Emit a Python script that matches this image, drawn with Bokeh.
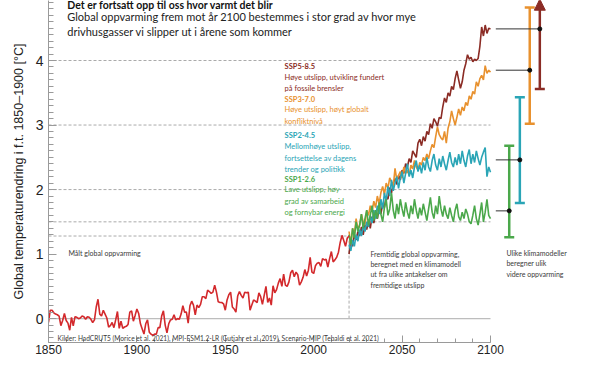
from bokeh.plotting import figure
from bokeh.models import Range1d, FixedTicker, Label, Whisker, TeeHead, NormalHead, ColumnDataSource
from bokeh.embed import file_html
from bokeh.resources import INLINE

# ---------------- data ----------------
obs_years = list(range(1850, 2021))
obs_vals = [
    -0.06, 0.13, 0.13, 0.09, 0.07, 0.06, 0.04, -0.11, -0.03, 0.08,   # 1850s
    -0.03, -0.07, -0.18, 0.02, -0.11, 0.03, 0.02, 0.00, 0.01, 0.04,  # 1860s
    0.03, -0.01, 0.03, 0.02, -0.01, -0.06, -0.02, 0.18, 0.30, 0.07,  # 1870s
    0.04, 0.13, 0.07, 0.01, -0.13, -0.11, -0.06, -0.14, -0.02, 0.11, # 1880s
    -0.15, -0.04, -0.15, -0.13, -0.12, -0.09, 0.10, 0.12, -0.04, 0.05, # 1890s
    0.15, 0.08, -0.08, -0.16, -0.24, -0.08, -0.02, -0.21, -0.24, -0.26, # 1900s
    -0.24, -0.24, -0.14, -0.14, 0.04, 0.12, -0.10, -0.22, -0.08, -0.02, # 1910s
    -0.01, 0.06, -0.02, 0.00, -0.01, 0.07, 0.20, 0.10, 0.10, -0.07,  # 1920s
    0.20, 0.27, 0.21, 0.06, 0.21, 0.17, 0.22, 0.34, 0.34, 0.31,      # 1930s
    0.44, 0.42, 0.39, 0.41, 0.52, 0.41, 0.26, 0.25, 0.25, 0.23,      # 1940s
    0.13, 0.29, 0.37, 0.41, 0.18, 0.15, 0.10, 0.35, 0.42, 0.36,      # 1950s
    0.32, 0.41, 0.40, 0.41, 0.13, 0.21, 0.29, 0.27, 0.25, 0.40,      # 1960s
    0.34, 0.22, 0.36, 0.50, 0.25, 0.32, 0.21, 0.51, 0.40, 0.45,      # 1970s
    0.55, 0.62, 0.50, 0.69, 0.52, 0.50, 0.57, 0.71, 0.75, 0.65,      # 1980s
    0.72, 0.68, 0.52, 0.57, 0.64, 0.76, 0.66, 0.75, 0.95, 0.72,      # 1990s
    0.70, 0.82, 0.86, 0.87, 0.81, 0.93, 0.91, 0.92, 0.80, 0.93,      # 2000s
    1.04, 0.88, 0.91, 0.95, 1.03, 1.18, 1.29, 1.21, 1.12, 1.25,      # 2010s
    1.28,                                                            # 2020
]

ssp_years = list(range(2020, 2101))
ssp585 = [
    1.00, 1.25, 1.12, 1.30, 1.22, 1.35, 1.28, 1.42, 1.30, 1.45,
    1.38, 1.52, 1.40, 1.58, 1.48, 1.62, 1.55, 1.70, 1.62, 1.78,
    1.72, 1.90, 1.85, 2.03, 1.95, 2.10, 2.17, 2.08, 2.22, 2.15,
    2.30, 2.25, 2.40, 2.35, 2.48, 2.42, 2.60, 2.55, 2.50, 2.72,
    2.78, 2.68, 2.82, 2.75, 2.90, 2.85, 3.02, 2.95, 3.10, 3.05,
    2.98, 3.12, 3.10, 3.28, 3.42, 3.35, 3.50, 3.45, 3.60, 3.55,
    3.72, 3.84, 3.70, 3.57, 3.67, 3.85, 3.95, 4.09, 4.02, 4.05,
    3.98, 4.02, 4.00, 4.03, 4.22, 4.52, 4.38, 4.55, 4.42, 4.50,
    4.49,
]
ssp370 = [
    1.35, 1.15, 1.40, 1.30, 1.55, 1.38, 1.45, 1.62, 1.50, 1.45,
    1.68, 1.60, 1.75, 1.65, 1.82, 1.72, 1.90, 1.78, 1.95, 2.05,
    1.92, 2.10, 2.02, 2.18, 2.12, 2.05, 2.33, 2.15, 2.22, 2.28,
    2.18, 2.35, 2.25, 2.30, 2.22, 2.38, 2.32, 2.45, 2.35, 2.30,
    2.42, 2.38, 2.50, 2.45, 2.55, 2.48, 2.60, 2.70, 2.65, 2.82,
    2.97, 2.85, 2.80, 2.77, 2.90, 2.72, 2.95, 3.05, 3.22, 3.10,
    3.00, 3.12, 3.25, 3.15, 3.28, 3.22, 3.35, 3.30, 3.45, 3.40,
    3.52, 3.48, 3.67, 3.60, 3.72, 3.77, 3.70, 3.92, 3.80, 3.85,
    3.82,
]
ssp245 = [
    1.15, 1.05, 1.22, 1.12, 1.30, 1.20, 1.38, 1.28, 1.45, 1.35,
    1.50, 1.42, 1.60, 1.48, 1.68, 1.55, 1.75, 1.62, 1.85, 1.70,
    1.95, 1.82, 2.05, 1.90, 2.15, 1.98, 2.10, 2.20, 2.02, 2.18,
    2.28, 2.10, 2.25, 2.40, 2.20, 2.30, 2.18, 2.35, 2.45, 2.28,
    2.38, 2.25, 2.42, 2.30, 2.50, 2.35, 2.28, 2.45, 2.55, 2.38,
    2.30, 2.48, 2.35, 2.52, 2.40, 2.30, 2.45, 2.58, 2.42, 2.35,
    2.50, 2.38, 2.55, 2.40, 2.60, 2.45, 2.35, 2.52, 2.62, 2.40,
    2.55, 2.42, 2.60, 2.48, 2.38, 2.50, 2.58, 2.65, 2.20, 2.35,
    2.27,
]
ssp126 = [
    1.30, 1.15, 1.40, 1.25, 1.50, 1.35, 1.45, 1.62, 1.40, 1.55,
    1.68, 1.45, 1.60, 1.75, 1.52, 1.68, 1.55, 1.80, 1.62, 1.50,
    1.72, 1.85, 1.60, 1.70, 1.95, 1.68, 1.55, 1.78, 1.62, 1.85,
    1.70, 1.58, 1.80, 1.65, 1.55, 1.75, 1.62, 1.85, 1.68, 1.55,
    1.72, 1.60, 1.78, 1.65, 1.52, 1.70, 1.88, 1.65, 1.55, 1.75,
    1.62, 1.90, 1.70, 1.58, 1.75, 1.62, 1.55, 1.72, 1.60, 1.50,
    1.68, 1.78, 1.58, 1.52, 1.65, 1.55, 1.70, 1.62, 1.50, 1.47,
    1.60, 1.75, 1.55, 1.45, 1.62, 1.80, 1.50, 1.65, 1.85, 1.60,
    1.55,
]

# model spread in 2100 (low, central, high) per scenario
scen_names = ["SSP1-2.6", "SSP2-4.5", "SSP3-7.0", "SSP5-8.5"]
range_low = [1.26, 1.79, 3.02, 3.56]
range_mid = [1.67, 2.46, 3.85, 4.49]
range_high = [2.68, 3.43, 4.82, 4.95]

ref_levels = [4.0, 3.0, 2.0, 1.5]
obs_level = 1.28
obs_end_year = 2020

x_ticks = [1850, 1900, 1950, 2000, 2050, 2100]
y_ticks = [0, 1, 2, 3, 4, 5]

# ---------------- styles / positions ----------------
C_OBS = "#d3292c"
C585 = "#8b2c25"
C370 = "#e8912e"
C245 = "#2aa5b6"
C126 = "#4ba84b"
GRAY_TXT = "#3a3a3a"
bar_x = [2110.6, 2116.6, 2122.2, 2127.9]
conn_x0 = 2103
FONT = "Lato"

p = figure(width=589, height=356, output_backend="svg", toolbar_location=None,
           x_range=Range1d(1850, 2156), y_range=Range1d(-0.37, 4.93),
           min_border_left=48, min_border_right=0, min_border_top=0, min_border_bottom=0)
p.outline_line_color = None
p.grid.visible = False
p.background_fill_color = "white"

# axes
p.xaxis.ticker = FixedTicker(ticks=x_ticks, minor_ticks=[y for y in range(1850, 2101, 10)])
p.xaxis.bounds = (1850, 2100)
p.xaxis.major_tick_in = 7
p.xaxis.major_tick_out = 0
p.xaxis.minor_tick_in = 4
p.xaxis.minor_tick_out = 0
p.xaxis.major_label_text_font = "Liberation Sans"
p.xaxis.major_label_text_font_size = "12px"
p.xaxis.major_label_text_color = "#222222"
p.xaxis.major_label_standoff = 2

p.yaxis.ticker = FixedTicker(ticks=y_ticks, minor_ticks=[k / 10 for k in range(-5, 51)])
p.yaxis.major_tick_in = 8
p.yaxis.major_tick_out = 0
p.yaxis.minor_tick_in = 5
p.yaxis.minor_tick_out = 0
p.yaxis.major_label_text_font = "Liberation Sans"
p.yaxis.major_label_text_font_size = "14px"
p.yaxis.major_label_text_color = "#222222"
p.yaxis.major_label_standoff = 5
p.yaxis.axis_label = "Global temperaturendring i f.t. 1850–1900 [°C]"
p.yaxis.axis_label_text_font = "Liberation Sans"
p.yaxis.axis_label_text_font_size = "12.5px"
p.yaxis.axis_label_text_font_style = "normal"
p.yaxis.axis_label_text_color = "#222222"
p.yaxis.axis_label_standoff = 7
for ax in (p.xaxis, p.yaxis):
    ax.axis_line_color = "#9a9a9a"
    ax.major_tick_line_color = "#9a9a9a"
    ax.minor_tick_line_color = "#9a9a9a"

# reference lines
n = len(ref_levels)
p.segment(x0=[1850] * n, x1=[2100] * n, y0=ref_levels, y1=ref_levels,
          line_color="#a0a0a0", line_width=0.9, line_dash="3 2")
p.segment(x0=[1850], x1=[obs_end_year], y0=[obs_level], y1=[obs_level],
          line_color="#a0a0a0", line_width=0.9, line_dash="3 2")
p.segment(x0=[obs_end_year], x1=[obs_end_year], y0=[0], y1=[obs_level],
          line_color="#a0a0a0", line_width=0.9, line_dash="3 2")
p.segment(x0=[1850], x1=[2100], y0=[0], y1=[0], line_color="#bdbdbd", line_width=1.2)

# projections and observations
p.line(ssp_years, ssp585, line_color=C585, line_width=1.6)
p.line(ssp_years, ssp370, line_color=C370, line_width=1.6)
p.line(ssp_years, ssp245, line_color=C245, line_width=1.6)
p.line(ssp_years, ssp126, line_color=C126, line_width=1.6)
p.line(obs_years, obs_vals, line_color=C_OBS, line_width=1.6)

# model spread bars
cols = [C126, C245, C370, C585]
for i in range(4):
    src = ColumnDataSource(dict(x=[bar_x[i]], lo=[range_low[i]], hi=[range_high[i]]))
    if i == 3:
        up = NormalHead(size=11, fill_color=cols[i], line_color=cols[i], line_width=1)
    else:
        up = TeeHead(size=10, line_color=cols[i], line_width=2.5)
    w = Whisker(source=src, base="x", lower="lo", upper="hi", dimension="height",
                line_color=cols[i], line_width=2.5,
                lower_head=TeeHead(size=10, line_color=cols[i], line_width=2.5),
                upper_head=up)
    p.add_layout(w)

p.segment(x0=[conn_x0] * 4, x1=bar_x, y0=range_mid, y1=range_mid, line_color="#333333", line_width=1)
p.scatter(bar_x, range_mid, size=4, color="#111111")

# ---------------- texts ----------------
def lab(x, y, text, size, color, style="normal", lh=1.3, baseline="top"):
    p.add_layout(Label(x=x, y=y, text=text, text_font=FONT, text_font_size=size,
                       text_color=color, text_font_style=style, text_baseline=baseline,
                       text_align="left", text_line_height=lh))

lab(1860.6, 4.95, "Det er fortsatt opp til oss hvor varmt det blir", "10.5px", "#111111", "bold")
lab(1860.6, 4.79, "Global oppvarming frem mot år 2100 bestemmes i stor grad av hvor mye\n"
                  "drivhusgasser vi slipper ut i årene som kommer", "11px", "#222222", lh=1.2)

lab(1983.5, 3.97, "SSP5-8.5", "7.5px", C585, "bold")
lab(1983.5, 3.81, "Høye utslipp, utvikling fundert\npå fossile brensler", "7.5px", C585)
lab(1983.5, 3.47, "SSP3-7.0", "7.5px", C370, "bold")
lab(1983.5, 3.31, "Høye utslipp, høyt globalt\nkonfliktnivå", "7.5px", C370)
lab(1983.5, 2.90, "SSP2-4.5", "7.5px", C245, "bold")
lab(1983.5, 2.74, "Mellomhøye utslipp,\nfortsettelse av dagens\ntrender og politikk", "7.5px", C245)
lab(1983.5, 2.23, "SSP1-2.6", "7.5px", C126, "bold")
lab(1983.5, 2.07, "Lave utslipp, høy\ngrad av samarbeid\nog fornybar energi", "7.5px", C126)

lab(1861.3, 1.01, "Målt global oppvarming", "7px", GRAY_TXT, baseline="middle")
lab(2032.1, 1.07, "Fremtidig global oppvarming,\nberegnet med en klimamodell\nut fra ulike antakelser om\nfremtidige utslipp",
    "7px", GRAY_TXT)
lab(2109.0, 1.08, "Ulike klimamodeller\nberegner ulik\nvidere oppvarming", "7px", GRAY_TXT)
lab(1855.1, -0.305, "Kilder: HadCRUT5 (Morice et al. 2021), MPI-ESM1.2-LR (Gutjahr et al. 2019), "
                    "Scenario-MIP (Tebaldi et al. 2021)", "6.6px", GRAY_TXT, baseline="middle")

open("out.html", "w").write(file_html(p, INLINE))
